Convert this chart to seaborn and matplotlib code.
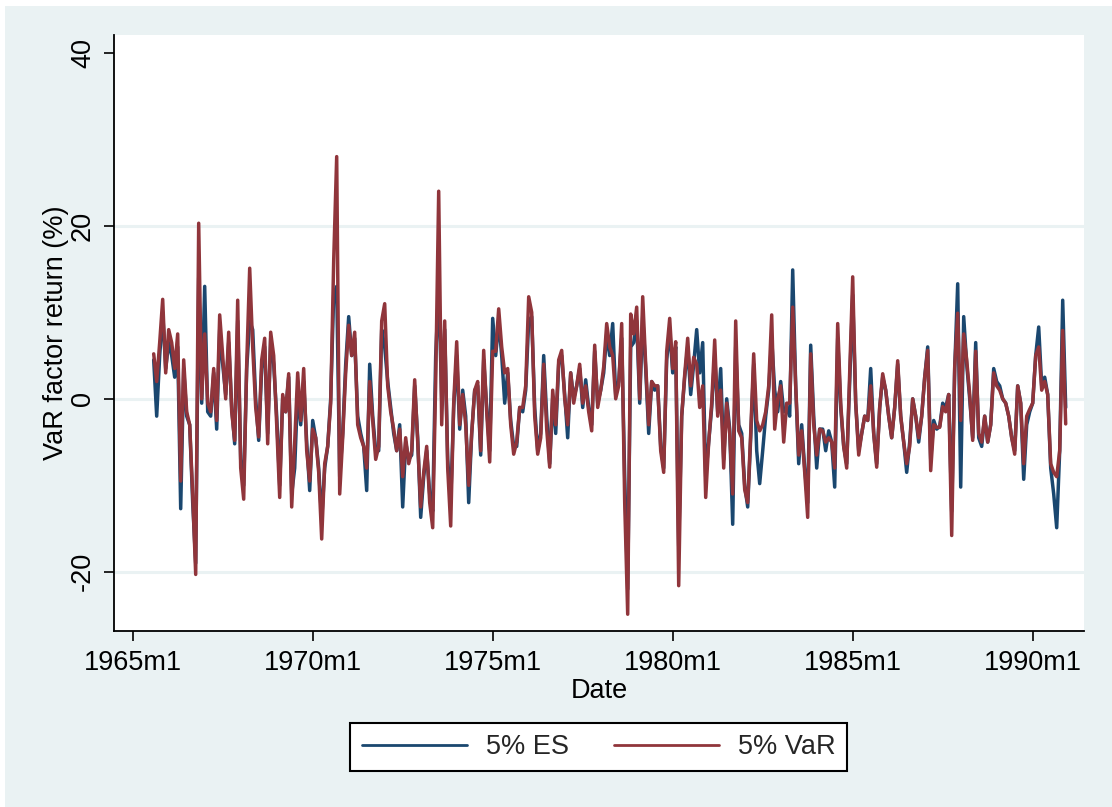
import numpy as np
import pandas as pd
import matplotlib
matplotlib.use("Agg")
import matplotlib.pyplot as plt
import seaborn as sns
from matplotlib.patches import Rectangle

sns.set_theme(style="white")
plt.rcParams['font.family'] = ['Liberation Sans', 'DejaVu Sans']

# ---------------- data ----------------
start_month = "1965-08"

var5 = [
    # 1965m8 - 1969m10
    5.2, 2.0, 6.5, 11.5, 3.0, 8.0, 6.5, 3.5, 7.5, -9.5,
    4.5, -1.5, -3.0, -11, -20.3, 20.3, 0, 7.5, -0.5, -1.5,
    3.5, -2.5, 9.7, 5.0, 0, 7.7, -1.5, -4.8, 11.4, -8,
    -11.6, 4.0, 15.1, 6.0, -1.0, -4.4, 4.5, 7.0, -5.2, 7.7,
    5.0, -3.0, -11.4, 0.5, -1.5, 2.9, -12.5, -5.0, 3.0, -2.5,
    3.5,
    # 1969m11 - 1974m3
    -6, -9.5, -3.5, -4.5, -8.5, -16.2, -7.5, -5.5, -0.5, 16,
    28, -11, -4.5, 3, 8.5, 5.0, 7.7, -3, -4.5, -5.5,
    -8.0, 2.0, -2.5, -7.0, -5.5, 9.0, 11.0, 1.5, -1.5, -3.5,
    -6, -3.5, -9, -4.5, -7.5, -6, 2.2, -5, -12.5, -8.5,
    -5.5, -12, -14.9, 2, 24, -3, 9, -8, -14.7, -0.5,
    6.6, -3, 0.5,
    # 1974m4 - 1978m9
    -3, -10, -4, 1, 2.0, -6, 5.6, -1.5, -7.3, 5.5,
    5.5, 10.4, 6, 3, 3.5, -3, -6.4, -5, -1, -1,
    1.5, 11.8, 10, -2, -6.4, -4.5, 4.0, -3.5, -7.9, 1,
    -3, 4.5, 5.6, 0, -3, 3.0, -0.5, 1.5, 4.0, -0.5,
    1.5, -1.5, -3.7, 6.2, -1, 1, 3.7, 8.7, 6, 5,
    0, 1.5, 8.7, -12,
    # 1978m10 - 1983m2
    -24.9, 9.8, 7.5, 10.6, 0, 11.8, 4.0, -3, 2.0, 1.5,
    1.5, -6, -8.5, 5.5, 9.3, 3.5, 6.6, -21.6, -2, 2.8,
    7.0, 1.5, 4.8, 4.0, -1, 1.5, -11.4, -5, -0.5, 6.8,
    -2, 1, -8, -0.5, -4, -11, 9, -3.7, -4.5, -10.5,
    -12, -4, 5.2, -2.5, -3.7, -3, -1.5, 1.5, 9.7, -3.5,
    0, 1.5, -5,
    # 1983m3 - 1987m3
    -0.5, -0.5, 10.6, 1.5, -6.5, -3.7, -8.5, -13.7, 5.2, -3,
    -6.5, -3.5, -3.7, -5, -4.5, -5, -8, 8.7, -0.5, -5.5,
    -8, 3, 14.1, -0.5, -6.5, -4, -2, -2.5, 1.5, -4,
    -7.9, -1, 2.9, 1, -2, -4.5, -1, 4.4, -2, -5,
    -7.5, -5.5, 0, -2, -4.5, -2, 2.5, 5.6, -8.3,
    # 1987m4 - 1990m12
    -3, -3.3, -3.3, -0.9, -1.5, 0.5, -15.8, 3.7, 9.9, -2.5,
    7.5, 4.5, 0.5, -4.8, 5.5, -4, -5, -2, -5, -3,
    3, 1.5, 1, 0, -0.5, -2, -4.5, -6.4, 1.5, -0.5,
    -7.5, -2, -1.2, -0.5, 5, 6, 1, 2, 0.5, -7.5,
    -8.5, -9, -6, 7.9, -2.9,
]

es5 = [
    4.5, -2.0, 5, 10, 3.5, 6.5, 5.0, 2.5, 6, -12.7,
    3.5, -2, -3, -12, -19, 14, -0.5, 13, -1.5, -2,
    3, -3.5, 8, 4, 0.5, 6.5, -1, -5.2, 9, -7,
    -10, 3.5, 9, 8, 0, -4.8, 3.5, 6, -4, 7,
    4, -2, -10, 0, -1.5, 2.5, -11, -8, 1, -3,
    2,
    -5, -10.6, -2.5, -4.5, -8, -14, -8, -5.5, 0, 12,
    13, -9, -4, 4, 9.5, 5, 7, -2, -4, -5.5,
    -10.6, 4, -2, -6, -6, 8, 6, 2, -1, -4,
    -6, -3, -12.5, -5, -7, -6.5, 1.5, -4.5, -13.7, -9,
    -6, -11, -13, 5, 13, 0, 8, -7, -12, -1,
    5, -3.5, 1,
    -2, -12, -4, 1, 1.5, -6.5, 4.5, -1, -6, 9.3,
    5, 9, 5, -0.5, 3, -2.5, -5.5, -5.5, -1, -1.5,
    1, 9, 9.5, -1, -6, -4, 5, -2, -7.5, 0,
    -4, 4, 5, 0.5, -4.5, 3, 0, 1.5, 3.5, -1,
    2.2, -1, -3, 5.5, -0.5, 1, 3, 7.5, 5, 8.7,
    0.5, 2, 7, -9,
    -22, 6, 6.5, 9, -0.5, 9.5, 3.5, -4, 2, 1,
    1.5, -5.5, -8, 4.5, 8, 3, 6, -17, -2, 2.5,
    6, 0.5, 4, 8, 3, 6.5, -9, -5, -1, 5,
    -1.5, 3.5, -7, 0, -3.5, -14.5, 6, -3, -4, -10,
    -12.5, -4.5, 4, -6, -9.8, -6, -2, 1, 7, 1,
    -1.5, 2, -1.5,
    -1, -2, 14.9, 1.5, -7.5, -3, -8, -12, 6.2, -2,
    -8, -3.5, -3.5, -6, -3.7, -5, -10.2, 7, -1, -5.5,
    -7.5, 2, 12, -0.5, -6, -4, -2, -2.5, 3.5, -4,
    -7.5, -1, 2.5, 1, -2, -4.5, -1, 4, -2, -5,
    -8.5, -5, 0, -2, -5, -2, 2.5, 6, -7,
    -2.5, -3.5, -3.2, -0.5, -1, 0.5, -13, 3.5, 13.3, -10.2,
    9.5, 4, 0, -4.5, 6.5, -4.5, -5.5, -2, -5, -3,
    3.5, 2, 1.5, 0, -0.5, -2, -4.5, -6, 1.5, -0.5,
    -9.3, -3, -1.5, -0.5, 5, 8.3, 1.5, 2.5, 0.5, -8,
    -11, -14.9, -6, 11.4, -1,
]

series_names = ["5% ES", "5% VaR"]
x_tick_labels = ["1965m1", "1970m1", "1975m1", "1980m1", "1985m1", "1990m1"]
y_tick_values = [-20, 0, 20, 40]
y_grid_values = [-20, 0, 20]

# Stata-style monthly index (1960m1 = 0)
def stata_month(p):
    return (p.year - 1960) * 12 + (p.month - 1)

periods = pd.period_range(start_month, periods=len(var5), freq="M")
mnum = [stata_month(p) for p in periods]
df = pd.DataFrame({"Date": mnum, series_names[0]: es5, series_names[1]: var5})
long = df.melt(id_vars="Date", var_name="series", value_name="ret")

x_ticks = [stata_month(pd.Period(lbl.replace("m", "-"), freq="M")) for lbl in x_tick_labels]

# ---------------- figure ----------------
W, H = 1112, 807
fig = plt.figure(figsize=(W / 100, H / 100), dpi=100)
fig.patch.set_facecolor("white")
bg = "#EAF2F3"
fig.add_artist(Rectangle((5 / W, 0), 1 - 5 / W, 1 - 6 / H, transform=fig.transFigure,
                         facecolor=bg, edgecolor="none", zorder=-10))

L, R, T, B = 114, 1084, 35, 631
ax = fig.add_axes([L / W, 1 - B / H, (R - L) / W, (B - T) / H])
ax.set_facecolor("white")

for g in y_grid_values:
    ax.axhline(g, color=bg, lw=2.2, zorder=0)

palette = {"5% ES": "#1A476F", "5% VaR": "#90353B"}
sns.lineplot(data=long, x="Date", y="ret", hue="series", hue_order=series_names,
             palette=palette, linewidth=2.5, ax=ax, legend=True, zorder=3)
for ln in ax.lines:
    ln.set_solid_joinstyle("round")

ax.set_xlim(53.77, 377.1)
ax.set_ylim(-26.84, 42.06)

for s in ["top", "right"]:
    ax.spines[s].set_visible(False)
for s in ["left", "bottom"]:
    ax.spines[s].set_color("black")
    ax.spines[s].set_linewidth(1.3)

fs = 19.5
ax.set_xticks(x_ticks)
ax.set_xticklabels(x_tick_labels, fontsize=fs, color="black")
ax.set_yticks(y_tick_values)
ax.set_yticklabels([str(v) for v in y_tick_values], fontsize=fs, rotation=90,
                   va="center", color="black")
ax.tick_params(axis="x", direction="out", length=7.5, width=1.2, pad=6, colors="black",
               bottom=True)
ax.tick_params(axis="y", direction="out", length=7.5, width=1.2, pad=5.5, colors="black",
               left=True)
ax.tick_params(axis="both", labelcolor="black")

ax.set_xlabel("Date", fontsize=fs, color="black")
ax.set_ylabel("VaR factor return (%)", fontsize=fs, color="black")
ax.xaxis.set_label_coords(0.5, (B - 678) / (B - T))
ax.yaxis.set_label_coords((69 - L) / (R - L), 0.5)

handles, labels = ax.get_legend_handles_labels()
ax.get_legend().remove()
leg = fig.legend(handles, labels, loc="center",
                 bbox_to_anchor=(598.5 / W, 1 - 747 / H), ncol=2, frameon=True,
                 fancybox=False, edgecolor="black", facecolor="white", fontsize=fs,
                 handlelength=3.9, handletextpad=0.67, columnspacing=1.67,
                 borderpad=0.42)
leg.get_frame().set_linewidth(1.5)
leg.get_frame().set_alpha(1.0)
for h in leg.legend_handles:
    h.set_linewidth(2.0)

fig.savefig("out.png", dpi=100, facecolor=fig.get_facecolor())
